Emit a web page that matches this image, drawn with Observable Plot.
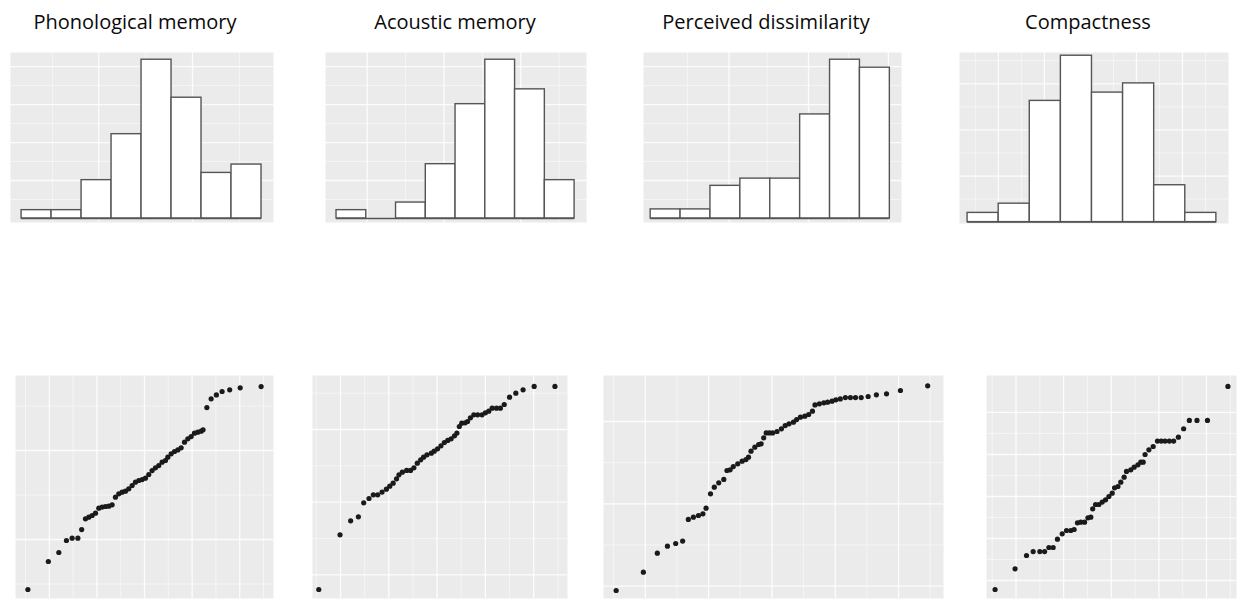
<!DOCTYPE html>
<html>
<head>
<meta charset="utf-8">
<script src="https://cdn.jsdelivr.net/npm/d3@7"></script>
<script src="https://cdn.jsdelivr.net/npm/@observablehq/plot@0.6"></script>
<style>
  html, body { margin: 0; padding: 0; background: #ffffff; }
  #root { position: relative; width: 1238px; height: 599px; overflow: hidden; background: #ffffff; }
  .panel { position: absolute; }
  .title { position: absolute; width: 300px; text-align: center; font-family: "Open Sans", Lato, sans-serif; font-size: 20px; line-height: 1; color: #0a0a0a; }
</style>
</head>
<body>
<div id="root"></div>
<script>
// ---------- DATA ----------
const titles = ["Phonological memory", "Acoustic memory", "Perceived dissimilarity", "Compactness"];

// Histogram bins (bin index) and density heights
const binStarts = [0, 1, 2, 3, 4, 5, 6, 7];
const phonoDensity    = [0.022, 0.022, 0.101, 0.222, 0.418, 0.318, 0.120, 0.142];
const acousticDensity = [0.022, 0.000, 0.042, 0.143, 0.301, 0.418, 0.340, 0.101];
const dissimDensity   = [0.024, 0.024, 0.086, 0.105, 0.105, 0.274, 0.418, 0.397];
const compactDensity  = [0.020, 0.040, 0.263, 0.361, 0.281, 0.301, 0.080, 0.020];

// Q-Q plots: theoretical normal quantiles and sample values
const phonoTheo = [-2.45,-2.02,-1.80,-1.64,-1.52,-1.40,-1.32,-1.24,-1.17,-1.10,-1.03,-0.96,-0.89,-0.82,-0.75,-0.68,-0.61,-0.54,-0.47,-0.40,-0.33,-0.26,-0.19,-0.12,-0.05,0.02,0.09,0.16,0.23,0.30,0.37,0.44,0.49,0.56,0.63,0.70,0.77,0.84,0.91,0.98,1.05,1.12,1.19,1.23,1.31,1.40,1.51,1.63,1.79,2.01,2.45];
const phonoSample = [4.38,7.53,8.54,9.89,10.15,10.15,11.12,12.32,12.51,12.70,12.96,13.52,13.63,13.71,13.75,13.90,14.76,15.13,15.32,15.43,15.69,16.07,16.44,16.63,16.74,16.89,17.30,17.75,18.05,18.31,18.69,18.88,19.25,19.63,19.89,20.07,20.30,20.94,21.31,21.57,21.95,22.06,22.17,22.32,24.83,25.81,26.25,26.63,26.82,27.04,27.19];

const acousticTheo = [-2.45,-2.01,-1.79,-1.63,-1.52,-1.41,-1.32,-1.23,-1.14,-1.05,-0.98,-0.91,-0.84,-0.79,-0.72,-0.63,-0.55,-0.48,-0.41,-0.34,-0.28,-0.21,-0.12,-0.06,0.01,0.08,0.15,0.22,0.29,0.36,0.41,0.46,0.51,0.58,0.63,0.69,0.76,0.84,0.93,1.00,1.07,1.14,1.23,1.31,1.39,1.50,1.63,1.78,2.01,2.44];
const acousticSample = [-2.02,5.50,7.43,7.98,9.91,10.50,11.01,11.01,11.38,11.79,12.20,12.61,13.21,13.76,14.13,14.36,14.36,14.72,15.37,15.83,16.19,16.51,16.74,17.02,17.34,17.75,18.21,18.49,18.72,19.13,19.50,20.41,20.87,20.92,21.10,21.61,22.02,22.02,22.02,22.29,22.52,22.94,22.94,22.94,23.44,24.45,25.00,25.46,25.92,25.92];

const dissimTheo = [-2.46,-2.03,-1.81,-1.65,-1.52,-1.41,-1.32,-1.24,-1.16,-1.09,-1.04,-0.97,-0.91,-0.84,-0.76,-0.71,-0.66,-0.61,-0.54,-0.47,-0.41,-0.37,-0.33,-0.27,-0.21,-0.17,-0.13,-0.09,-0.04,0.01,0.08,0.15,0.21,0.27,0.34,0.39,0.45,0.52,0.58,0.64,0.68,0.75,0.82,0.88,0.95,1.01,1.08,1.16,1.24,1.32,1.41,1.52,1.65,1.81,2.03,2.46];
const dissimSample = [-0.53,1.70,4.01,4.86,5.18,5.47,8.10,8.38,8.58,8.79,9.47,11.21,12.02,12.55,12.96,14.05,14.13,14.53,14.86,15.18,15.38,15.67,16.40,16.88,17.21,17.29,18.02,18.62,18.62,18.62,18.79,19.11,19.51,19.72,19.92,20.24,20.53,20.65,20.85,21.26,22.02,22.15,22.27,22.35,22.47,22.63,22.75,22.91,22.91,22.91,22.91,23.04,23.24,23.36,23.77,24.33];

const compactTheo = [-2.44,-2.02,-1.78,-1.64,-1.50,-1.40,-1.31,-1.22,-1.13,-1.03,-0.94,-0.85,-0.78,-0.71,-0.64,-0.56,-0.49,-0.43,-0.39,-0.33,-0.26,-0.19,-0.12,-0.05,0.02,0.07,0.14,0.20,0.27,0.32,0.41,0.48,0.56,0.62,0.67,0.71,0.79,0.88,0.97,1.05,1.13,1.22,1.31,1.41,1.52,1.64,1.80,2.02,2.45];
const compactSample = [-1.07,1.39,2.98,3.45,3.45,3.45,3.93,3.93,4.92,5.56,5.95,5.95,6.07,6.87,6.94,6.94,7.46,7.54,8.53,9.05,9.05,9.33,9.60,10.00,10.40,11.03,11.19,11.71,12.30,12.98,13.17,13.49,13.77,14.09,14.09,15.00,15.56,15.95,16.59,16.59,16.59,16.59,16.59,17.06,18.06,19.05,19.05,19.05,23.10];

// Grid break values
const histYMajor = [0.1, 0.2, 0.3, 0.4];
const histYMinor = [0.05, 0.15, 0.25, 0.35];
const qqXMajor = [-2, -1, 0, 1, 2];
const qqXMinor = [-2.5, -1.5, -0.5, 0.5, 1.5, 2.5];

// ---------- LAYOUT ----------
const root = document.getElementById("root");
const titleCenters = [135, 455, 766, 1088];
titles.forEach((t, i) => {
  const d = document.createElement("div");
  d.className = "title";
  d.textContent = t;
  d.style.left = (titleCenters[i] - 150) + "px";
  d.style.top = "12px";
  root.appendChild(d);
});

function grid(xMaj, xMin, yMaj, yMin) {
  return [
    Plot.frame({fill: "#ebebeb", stroke: null}),
    Plot.ruleX(xMin, {stroke: "#ffffff", strokeWidth: 0.7, strokeOpacity: 0.7}),
    Plot.ruleY(yMin, {stroke: "#ffffff", strokeWidth: 0.7, strokeOpacity: 0.7}),
    Plot.ruleX(xMaj, {stroke: "#ffffff", strokeWidth: 1.3, strokeOpacity: 0.85}),
    Plot.ruleY(yMaj, {stroke: "#ffffff", strokeWidth: 1.3, strokeOpacity: 0.85})
  ];
}

function place(svg, left, top) {
  const w = document.createElement("div");
  w.className = "panel";
  w.style.left = left + "px";
  w.style.top = top + "px";
  w.appendChild(svg);
  root.appendChild(w);
}

const histSpecs = [
  {dens: phonoDensity,    left: 10,  top: 52, width: 263, height: 170, xd: [-0.37, 8.40], yd: [-0.0105, 0.437], xMaj: [2.57, 5.70], xMin: [1.03, 4.13, 7.27]},
  {dens: acousticDensity, left: 325, top: 52, width: 261, height: 170, xd: [-0.37, 8.40], yd: [-0.0105, 0.437], xMaj: [1.03, 3.61, 6.19], xMin: [2.32, 4.90, 7.48]},
  {dens: dissimDensity,   left: 643, top: 52, width: 258, height: 170, xd: [-0.24, 8.39], yd: [-0.0105, 0.437], xMaj: [2.62, 5.28, 7.95], xMin: [1.23, 3.90, 6.62]},
  {dens: compactDensity,  left: 959, top: 52, width: 269, height: 171, xd: [-0.26, 8.39], yd: [-0.003, 0.368], xMaj: [0.99, 2.47, 3.95, 5.43, 6.91], xMin: [0.25, 1.73, 3.21, 4.69, 6.17, 7.65]}
];

histSpecs.forEach(s => {
  const rows = binStarts.map((b, i) => ({x1: b, x2: b + 1, y: s.dens[i]}));
  const svg = Plot.plot({
    width: s.width, height: s.height, margin: 0,
    style: {background: "transparent", overflow: "visible"},
    x: {domain: s.xd, axis: null},
    y: {domain: s.yd, axis: null},
    marks: [
      ...grid(s.xMaj, s.xMin, histYMajor, histYMinor),
      Plot.rectY(rows.filter(r => r.y > 0), {x1: "x1", x2: "x2", y1: 0, y2: "y", fill: "#ffffff", stroke: "#555555", strokeWidth: 1.4, insetLeft: 0, insetRight: 0}),
      Plot.ruleY([0], {x1: binStarts[0], x2: binStarts[binStarts.length - 1] + 1, stroke: "#555555", strokeWidth: 1.4})
    ]
  });
  place(svg, s.left, s.top);
});

const qqSpecs = [
  {tx: phonoTheo,    sy: phonoSample,    left: 15,  width: 258, xd: [-2.71, 2.71], yd: [3.37, 28.43],  yMaj: [10, 20],            yMin: [5, 15, 25]},
  {tx: acousticTheo, sy: acousticSample, left: 312, width: 255, xd: [-2.58, 2.70], yd: [-3.26, 27.43], yMaj: [0, 10, 20],         yMin: [5, 15, 25]},
  {tx: dissimTheo,   sy: dissimSample,   left: 603, width: 340, xd: [-2.66, 2.71], yd: [-1.50, 25.59], yMaj: [0, 10, 20],         yMin: [5, 15]},
  {tx: compactTheo,  sy: compactSample,  left: 986, width: 250, xd: [-2.62, 2.63], yd: [-2.14, 24.40], yMaj: [0, 5, 10, 15, 20],  yMin: [2.5, 7.5, 12.5, 17.5]}
];

qqSpecs.forEach(s => {
  const pts = s.tx.map((q, i) => ({q, v: s.sy[i]}));
  const svg = Plot.plot({
    width: s.width, height: 223, margin: 0,
    style: {background: "transparent", overflow: "visible"},
    x: {domain: s.xd, axis: null},
    y: {domain: s.yd, axis: null},
    marks: [
      ...grid(qqXMajor, qqXMinor, s.yMaj, s.yMin),
      Plot.dot(pts, {x: "q", y: "v", r: 2.6, fill: "#1a1a1a", stroke: null})
    ]
  });
  place(svg, s.left, 375);
});
</script>
</body>
</html>
